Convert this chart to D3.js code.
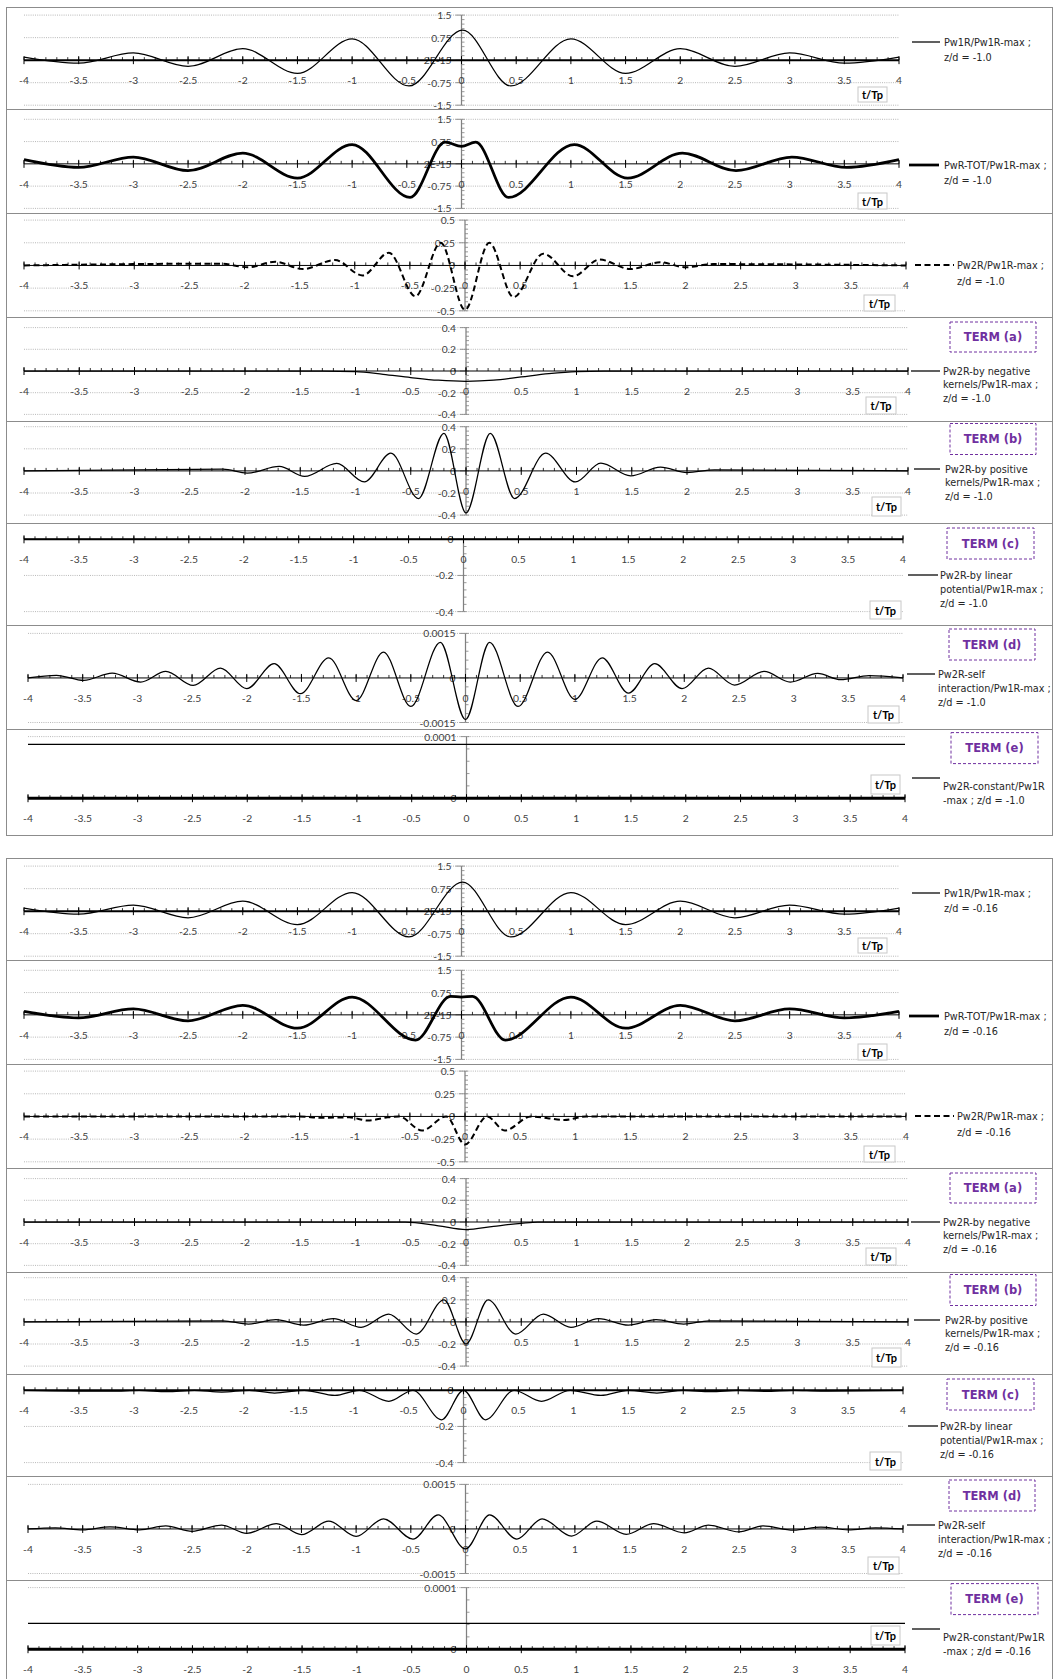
<!DOCTYPE html>
<html lang="en">
<head>
<meta charset="UTF-8">
<title>Pw2R terms</title>
<script src="https://cdn.jsdelivr.net/npm/d3@7"></script>
<style>
  body { margin: 0; background: #fff; }
</style>
</head>
<body>
<svg id="mainsvg" width="1054" height="1679"></svg>
<script>
// ---------- axis ticks ----------
const xTicks = [-4, -3.5, -3, -2.5, -2, -1.5, -1, -0.5, 0, 0.5, 1, 1.5, 2, 2.5, 3, 3.5, 4];
const xTickLabels = ["-4", "-3.5", "-3", "-2.5", "-2", "-1.5", "-1", "-0.5", "0", "0.5", "1", "1.5", "2", "2.5", "3", "3.5", "4"];
const yTicksW = [1.5, 0.75, 0, -0.75, -1.5];
const yLabelsW = ["1.5", "0.75", "2E-15", "-0.75", "-1.5"];
const yTicks2 = [0.5, 0.25, 0, -0.25, -0.5];
const yLabels2 = ["0.5", "0.25", "0", "-0.25", "-0.5"];
const yTicksAB = [0.4, 0.2, 0, -0.2, -0.4];
const yLabelsAB = ["0.4", "0.2", "0", "-0.2", "-0.4"];
const yTicksC = [0, -0.2, -0.4];
const yLabelsC = ["0", "-0.2", "-0.4"];
const yTicksD = [0.0015, 0, -0.0015];
const yLabelsD = ["0.0015", "0", "-0.0015"];
const yTicksE = [0.0001, 0];
const yLabelsE = ["0.0001", "0"];

// ---------- z/d = -1.0 ----------
const tW1_a = [-4, -3.5, -3, -2.5, -2, -1.5, -1, -0.48, 0.01, 0.45, 1, 1.5, 2, 2.5, 3, 3.5, 4];
const vW1_a = [0.1, -0.1, 0.24, -0.21, 0.38, -0.44, 0.71, -0.86, 1.0, -0.86, 0.71, -0.44, 0.38, -0.21, 0.24, -0.1, 0.1];
const tTot_a = [-4, -3.5, -3, -2.5, -2, -1.5, -1, -0.47, -0.15, 0, 0.13, 0.43, 1.03, 1.52, 2.02, 2.51, 3.02, 3.52, 4];
const vTot_a = [0.14, -0.12, 0.23, -0.23, 0.36, -0.48, 0.65, -1.13, 0.73, 0.59, 0.73, -1.13, 0.65, -0.48, 0.36, -0.23, 0.23, -0.12, 0.14];
const tW2_a = [-4, -2.22, -1.97, -1.72, -1.47, -1.18, -0.93, -0.69, -0.45, -0.22, 0, 0.22, 0.44, 0.71, 0.98, 1.22, 1.5, 1.77, 2.0, 2.25, 4];
const vW2_a = [0, 0.02, -0.02, 0.04, -0.04, 0.06, -0.11, 0.14, -0.34, 0.25, -0.49, 0.25, -0.35, 0.13, -0.12, 0.065, -0.04, 0.035, -0.02, 0.015, 0];
const tNeg_a = [-4, -1.3, -1.0, -0.75, -0.5, -0.25, 0, 0.25, 0.5, 0.75, 1.0, 1.25, 4];
const vNeg_a = [0, 0, -0.005, -0.03, -0.06, -0.085, -0.095, -0.085, -0.055, -0.025, -0.005, 0, 0];
const tPos_a = [-4, -2.2, -1.98, -1.69, -1.46, -1.17, -0.92, -0.68, -0.43, -0.2, 0, 0.22, 0.44, 0.72, 0.99, 1.22, 1.49, 1.76, 2.0, 2.25, 4];
const vPos_a = [0, 0.015, -0.02, 0.04, -0.05, 0.067, -0.1, 0.16, -0.25, 0.34, -0.38, 0.34, -0.25, 0.16, -0.1, 0.07, -0.045, 0.035, -0.015, 0.01, 0];
const tLin_a = [-4, 4];
const vLin_a = [0, 0];
const tSelf_a = [-4, -3.74, -3.49, -3.23, -2.97, -2.74, -2.49, -2.24, -2.0, -1.75, -1.51, -1.25, -1.0, -0.75, -0.5, -0.23, 0, 0.22, 0.48, 0.75, 1.0, 1.25, 1.49, 1.73, 1.98, 2.22, 2.46, 2.73, 2.97, 3.22, 3.43, 3.69, 4];
const vSelf_a = [0, 0.00009, -0.00008, 0.00016, -0.00014, 0.00022, -0.00025, 0.00033, -0.00036, 0.00048, -0.00053, 0.00068, -0.00076, 0.00087, -0.00096, 0.0012, -0.0014, 0.0012, -0.00096, 0.00087, -0.00072, 0.00068, -0.00051, 0.00048, -0.00036, 0.00033, -0.00024, 0.00022, -0.00014, 0.00015, -0.00006, 0.00008, 0];
const tConst_a = [-4, 4];
const vConst_a = [0.0000873, 0.0000873];

// ---------- z/d = -0.16 ----------
const tW1_b = [-4, -3.5, -3, -2.5, -2, -1.5, -1, -0.48, 0.01, 0.45, 1, 1.5, 2, 2.5, 3, 3.5, 4];
const vW1_b = [0.1, -0.1, 0.2, -0.22, 0.33, -0.45, 0.62, -0.86, 0.97, -0.86, 0.62, -0.45, 0.33, -0.22, 0.2, -0.1, 0.1];
const tTot_b = [-4, -3.5, -3, -2.5, -2, -1.5, -1, -0.42, -0.1, 0, 0.1, 0.4, 1, 1.5, 2, 2.5, 3, 3.5, 4];
const vTot_b = [0.12, -0.1, 0.2, -0.2, 0.32, -0.45, 0.6, -0.85, 0.62, 0.6, 0.62, -0.85, 0.6, -0.45, 0.32, -0.2, 0.2, -0.1, 0.12];
const tW2_b = [-4, -1.5, -1.3, -1.05, -0.88, -0.7, -0.6, -0.39, -0.17, 0, 0.2, 0.36, 0.6, 0.75, 0.9, 1.1, 4];
const vW2_b = [0, 0, -0.015, -0.01, -0.045, -0.01, 0, -0.155, 0, -0.31, 0, -0.155, 0, -0.02, -0.04, 0, 0];
const tNeg_b = [-4, -0.55, -0.25, 0, 0.25, 0.5, 0.65, 4];
const vNeg_b = [0, 0, -0.035, -0.07, -0.04, -0.012, 0, 0];
const tPos_b = [-4, -2.2, -1.97, -1.72, -1.47, -1.2, -0.95, -0.7, -0.45, -0.2, 0, 0.2, 0.45, 0.7, 0.95, 1.2, 1.47, 1.72, 1.97, 2.2, 4];
const vPos_b = [0, 0.01, -0.02, 0.02, -0.03, 0.03, -0.05, 0.07, -0.11, 0.2, -0.2, 0.2, -0.11, 0.07, -0.05, 0.03, -0.03, 0.02, -0.02, 0.01, 0];
const tLin_b = [-4, -3.2, -2.95, -2.7, -2.45, -2.2, -1.95, -1.72, -1.45, -1.17, -0.95, -0.68, -0.46, -0.2, 0, 0.2, 0.46, 0.71, 0.97, 1.25, 1.5, 1.76, 2.0, 2.25, 2.5, 2.75, 3.0, 3.25, 4];
const vLin_b = [0, -0.005, 0, -0.008, 0, -0.01, 0, -0.015, 0, -0.028, 0, -0.061, 0, -0.163, 0, -0.163, 0, -0.061, 0, -0.028, 0, -0.015, 0, -0.008, 0, -0.006, 0, -0.004, 0];
const tSelf_b = [-4, -3.75, -3.5, -3.25, -2.98, -2.74, -2.5, -2.23, -2.0, -1.73, -1.5, -1.25, -1.0, -0.75, -0.48, -0.25, 0, 0.22, 0.47, 0.7, 0.97, 1.2, 1.47, 1.72, 2.0, 2.22, 2.5, 2.72, 3.0, 3.25, 3.5, 3.75, 4];
const vSelf_b = [0, 0.00004, -0.00003, 0.00007, -0.00003, 0.0001, -0.00008, 0.00013, -0.00015, 0.00018, -0.00019, 0.00026, -0.00025, 0.00034, -0.00034, 0.00047, -0.00067, 0.00047, -0.00034, 0.00034, -0.00024, 0.00026, -0.00018, 0.00018, -0.00013, 0.00013, -0.0001, 0.0001, -0.00004, 0.00006, -0.00003, 0.00004, 0];
const tConst_b = [-4, 4];
const vConst_b = [0.000042, 0.000042];

// ---------- legend texts ----------
const legendA = [
  ["Pw1R/Pw1R-max ;", "z/d = -1.0"],
  ["PwR-TOT/Pw1R-max ;", "z/d = -1.0"],
  ["Pw2R/Pw1R-max ;", "z/d = -1.0"],
  ["Pw2R-by negative", "kernels/Pw1R-max ;", "z/d = -1.0"],
  ["Pw2R-by positive", "kernels/Pw1R-max ;", "z/d = -1.0"],
  ["Pw2R-by linear", "potential/Pw1R-max ;", "z/d = -1.0"],
  ["Pw2R-self", "interaction/Pw1R-max ;", "z/d = -1.0"],
  ["Pw2R-constant/Pw1R", "-max ;  z/d = -1.0"]
];
const legendB = [
  ["Pw1R/Pw1R-max ;", "z/d = -0.16"],
  ["PwR-TOT/Pw1R-max ;", "z/d = -0.16"],
  ["Pw2R/Pw1R-max ;", "z/d = -0.16"],
  ["Pw2R-by negative", "kernels/Pw1R-max ;", "z/d = -0.16"],
  ["Pw2R-by positive", "kernels/Pw1R-max ;", "z/d = -0.16"],
  ["Pw2R-by linear", "potential/Pw1R-max ;", "z/d = -0.16"],
  ["Pw2R-self", "interaction/Pw1R-max ;", "z/d = -0.16"],
  ["Pw2R-constant/Pw1R", "-max ;  z/d = -0.16"]
];
const termNames = [null, null, null, "TERM (a)", "TERM (b)", "TERM (c)", "TERM (d)", "TERM (e)"];

// ---------- layout (one entry per row, shared by both groups) ----------
const rows = [
  {top: 0,   h: 102, py: [8.1, 98.2],  px: [24, 899], axisW: 2,   yT: yTicksW,  yL: yLabelsW,  w: 1.25, dash: null,  tp: [858, 80, 29, 15], ln: [912, 940, 35], tx: [944, 35, 15]},
  {top: 102, h: 104, py: [10.3, 99.4], px: [24, 899], axisW: 1,   yT: yTicksW,  yL: yLabelsW,  w: 2.75, dash: null,  tp: [858, 84, 29, 16], ln: [909, 939, 56], tx: [944, 56, 15]},
  {top: 206, h: 104, py: [7.1, 97.8],  px: [24, 906], axisW: 1,   yT: yTicks2,  yL: yLabels2,  w: 2,    dash: "6,3.5", tp: [864, 82, 31, 16], ln: [915, 954, 52], tx: [957, 52, 16]},
  {top: 310, h: 104, py: [10.6, 97.4], px: [24, 908], axisW: 1,   yT: yTicksAB, yL: yLabelsAB, w: 1.25, dash: null,  tp: [866, 80, 30, 17], ln: [911, 940, 54], tx: [943, 54, 13.8], box: [950, 5, 86, 30]},
  {top: 414, h: 102, py: [5.7, 94.1],  px: [24, 908], axisW: 1,   yT: yTicksAB, yL: yLabelsAB, w: 1.25, dash: null,  tp: [872, 76, 29, 19], ln: [914, 940, 48], tx: [945, 48, 13.7], box: [950, 2.5, 86, 31]},
  {top: 516, h: 102, py: [16.3, 88.6], px: [24, 903], axisW: 2,   yT: yTicksC,  yL: yLabelsC,  w: 1.25, dash: null,  tp: [870, 78, 31, 18], ln: [908, 938, 52], tx: [940, 52, 14.3], box: [947, 5, 87, 31]},
  {top: 618, h: 104, py: [8.4, 97.5],  px: [28, 903], axisW: 1,   yT: yTicksD,  yL: yLabelsD,  w: 1.25, dash: null,  tp: [868, 81, 31, 17], ln: [907, 935, 49], tx: [938, 49, 14.3], box: [949, 4, 86, 31]},
  {top: 722, h: 106, py: [7.6, 69.2],  px: [28, 905], axisW: 3,   yT: yTicksE,  yL: yLabelsE,  w: 1.25, dash: null,  tp: [871, 46, 29, 19], ln: [912, 940, 49], tx: [943, 57, 14.1], box: [951, 3.6, 87, 31]}
];

const groups = [
  {top: 7, legend: legendA, series: [[tW1_a, vW1_a], [tTot_a, vTot_a], [tW2_a, vW2_a], [tNeg_a, vNeg_a], [tPos_a, vPos_a], [tLin_a, vLin_a], [tSelf_a, vSelf_a], [tConst_a, vConst_a]]},
  {top: 858, legend: legendB, series: [[tW1_b, vW1_b], [tTot_b, vTot_b], [tW2_b, vW2_b], [tNeg_b, vNeg_b], [tPos_b, vPos_b], [tLin_b, vLin_b], [tSelf_b, vSelf_b], [tConst_b, vConst_b]]}
];

const svg = d3.select("#mainsvg");
svg.append("rect").attr("width", 1054).attr("height", 1679).attr("fill", "#fff");

const labelColor = "#404040";
const tickFont = "Lato, 'Open Sans', sans-serif";
const legFont = "'DejaVu Sans', Verdana, sans-serif";

groups.forEach(grp => {
  rows.forEach((row, i) => {
    const top = grp.top + row.top;
    const g = svg.append("g").attr("transform", `translate(0, ${top})`);

    // panel frame
    g.append("rect")
      .attr("x", 6.5).attr("y", 0.5)
      .attr("width", 1046).attr("height", row.h)
      .attr("fill", "#fff").attr("stroke", "#8c8c8c").attr("stroke-width", 1);

    const yDom = d3.extent(row.yT);
    const x = d3.scaleLinear().domain([-4, 4]).range(row.px);
    const y = d3.scaleLinear().domain(yDom).range([row.py[1], row.py[0]]);
    const x0 = x(0), y0 = y(0);

    // gridlines
    g.selectAll(".grid")
      .data(row.yT.filter(d => d !== 0))
      .join("line")
      .attr("x1", row.px[0]).attr("x2", row.px[1])
      .attr("y1", d => y(d)).attr("y2", d => y(d))
      .attr("stroke", "#a6a6a6").attr("stroke-width", 0.8)
      .attr("stroke-dasharray", "1,1.2");

    // y axis
    g.append("line")
      .attr("x1", x0).attr("x2", x0)
      .attr("y1", y(yDom[1])).attr("y2", y(yDom[0]))
      .attr("stroke", "#808080").attr("stroke-width", 1.25);
    const yStep = Math.abs(row.yT[0] - row.yT[1]) / 5;
    const nMinor = Math.round((yDom[1] - yDom[0]) / yStep);
    g.selectAll(".ymin")
      .data(d3.range(nMinor + 1).map(k => yDom[0] + k * yStep))
      .join("line")
      .attr("x1", x0).attr("x2", x0 + 3)
      .attr("y1", d => y(d)).attr("y2", d => y(d))
      .attr("stroke", "#808080").attr("stroke-width", 0.8);
    g.selectAll(".ymaj")
      .data(row.yT)
      .join("line")
      .attr("x1", x0 - 6).attr("x2", x0)
      .attr("y1", d => y(d)).attr("y2", d => y(d))
      .attr("stroke", "#808080").attr("stroke-width", 0.8);
    g.selectAll(".ylab")
      .data(row.yT)
      .join("text")
      .attr("x", x0 - 10)
      .attr("y", d => y(d))
      .attr("text-anchor", "end")
      .attr("dominant-baseline", "central")
      .style("font-family", tickFont)
      .attr("font-size", 10.3)
      .attr("fill", labelColor)
      .text((d, k) => row.yL[k]);

    // x axis
    g.append("line")
      .attr("x1", row.px[0]).attr("x2", row.px[1])
      .attr("y1", y0).attr("y2", y0)
      .attr("stroke", "#000").attr("stroke-width", row.axisW);
    g.selectAll(".xmin")
      .data(d3.range(81).map(k => -4 + k * 0.1))
      .join("line")
      .attr("x1", d => x(d)).attr("x2", d => x(d))
      .attr("y1", y0 - 3).attr("y2", y0)
      .attr("stroke", "#000").attr("stroke-width", 0.8);
    g.selectAll(".xmaj")
      .data(xTicks)
      .join("line")
      .attr("x1", d => x(d)).attr("x2", d => x(d))
      .attr("y1", y0 - 4).attr("y2", y0 + 4)
      .attr("stroke", "#000").attr("stroke-width", 1);
    g.selectAll(".xlab")
      .data(xTicks)
      .join("text")
      .attr("x", d => x(d))
      .attr("y", y0 + 20)
      .attr("text-anchor", "middle")
      .attr("dominant-baseline", "central")
      .style("font-family", tickFont)
      .attr("font-size", 10.3)
      .attr("fill", labelColor)
      .text((d, k) => xTickLabels[k]);

    // series
    const [ts, vs] = grp.series[i];
    const pts = ts.map((t, k) => [t, vs[k]]);
    const line = d3.line()
      .x(d => x(d[0]))
      .y(d => y(d[1]))
      .curve(d3.curveMonotoneX);
    g.append("path")
      .attr("d", line(pts))
      .attr("fill", "none")
      .attr("stroke", "#000")
      .attr("stroke-width", row.w)
      .attr("stroke-dasharray", row.dash);

    // t/Tp box
    const tp = row.tp;
    g.append("rect")
      .attr("x", tp[0]).attr("y", tp[1]).attr("width", tp[2]).attr("height", tp[3])
      .attr("fill", "#fff").attr("stroke", "#c8c8c8").attr("stroke-width", 1);
    g.append("text")
      .attr("x", tp[0] + tp[2] / 2).attr("y", tp[1] + tp[3] / 2)
      .attr("text-anchor", "middle").attr("dominant-baseline", "central")
      .style("font-family", tickFont)
      .attr("font-size", 11).attr("font-weight", "bold").attr("fill", "#000")
      .text("t/Tp");

    // legend
    g.append("line")
      .attr("x1", row.ln[0]).attr("x2", row.ln[1])
      .attr("y1", row.ln[2]).attr("y2", row.ln[2])
      .attr("stroke", "#000").attr("stroke-width", row.w)
      .attr("stroke-dasharray", row.dash);
    g.selectAll(".leg")
      .data(grp.legend[i])
      .join("text")
      .attr("x", row.tx[0])
      .attr("y", (d, k) => row.tx[1] + k * row.tx[2])
      .attr("dominant-baseline", "central")
      .style("font-family", legFont)
      .attr("font-size", 9.7)
      .attr("fill", "#262626")
      .text(d => d);

    // TERM box
    if (termNames[i]) {
      const b = row.box;
      g.append("rect")
        .attr("x", b[0]).attr("y", b[1]).attr("width", b[2]).attr("height", b[3])
        .attr("fill", "#fff").attr("stroke", "#7030a0").attr("stroke-width", 1)
        .attr("stroke-dasharray", "3,2");
      g.append("text")
        .attr("x", b[0] + b[2] / 2).attr("y", b[1] + b[3] / 2)
        .attr("text-anchor", "middle").attr("dominant-baseline", "central")
        .style("font-family", legFont)
        .attr("font-size", 11.5).attr("font-weight", "bold").attr("fill", "#7030a0")
        .text(termNames[i]);
    }
  });
});
</script>
</body>
</html>
